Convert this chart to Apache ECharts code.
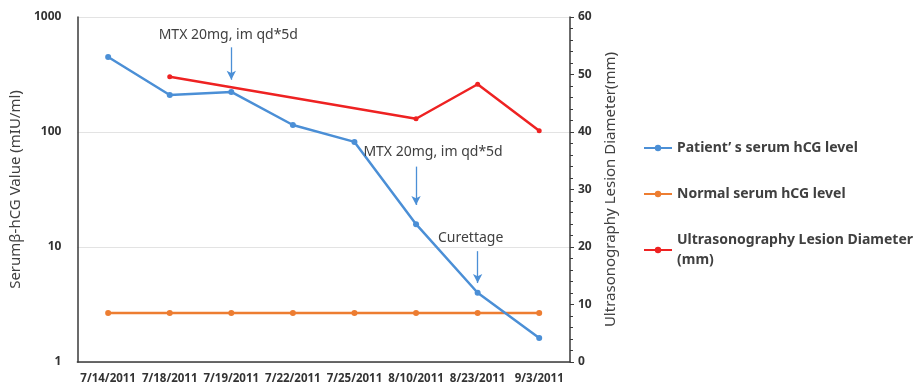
<!DOCTYPE html>
<html><head><meta charset="utf-8">
<script src="https://cdn.jsdelivr.net/npm/echarts@6/dist/echarts.min.js"></script>
<style>html,body{margin:0;padding:0;background:#fff}#c{width:919px;height:385px}</style>
</head><body><div id="c"></div>
<script>
const categories = ['7/14/2011','7/18/2011','7/19/2011','7/22/2011','7/25/2011','8/10/2011','8/23/2011','9/3/2011'];
const patientHCG = [449, 210, 223, 115, 82, 15.8, 4.0, 1.62];
const normalHCG = [2.67, 2.67, 2.67, 2.67, 2.67, 2.67, 2.67, 2.67];
const lesionDiameter = [null, 49.6, null, null, null, 42.3, 48.3, 40.2];
const seriesNames = ['Patient\u2019 s serum hCG level', 'Normal serum hCG level', 'Ultrasonography Lesion Diameter (mm)'];
const annotations = [
  {text: 'MTX 20mg, im qd*5d', cat: '7/19/2011', labelY: 700, from: 545, to: 285, dx: -3},
  {text: 'MTX 20mg, im qd*5d', cat: '8/10/2011', labelY: 67, from: 50, to: 23.2, dx: 17},
  {text: 'Curettage', cat: '8/23/2011', labelY: 12.0, from: 9.2, to: 4.86, dx: -7}
];
const font = '"Noto Sans", "Noto Sans CJK SC", sans-serif';
const txt = '#404040';
const chart = echarts.init(document.getElementById('c'));
chart.setOption({
  animation: false,
  textStyle: {fontFamily: font},
  grid: {left: 69, right: 349, top: 17, bottom: 23},
  legend: {
    orient: 'vertical', left: 638, top: 133, itemGap: 26, itemWidth: 28, itemHeight: 8,
    textStyle: {color: txt, fontSize: 14, fontWeight: 'bold', lineHeight: 20, fontFamily: font},
    formatter: n => n.replace(' (mm)', '\n(mm)'),
    data: seriesNames
  },
  xAxis: {
    type: 'category', data: categories, boundaryGap: true,
    axisLine: {lineStyle: {color: '#3a3a3a', width: 1.5}},
    axisTick: {show: false},
    axisLabel: {color: '#333', fontSize: 11.5, fontWeight: 'bold', margin: 11, interval: 0}
  },
  yAxis: [
    {type: 'log', logBase: 10, min: 1, max: 1000, position: 'left',
     name: 'Serumβ-hCG Value (mIU/ml)', nameLocation: 'middle', nameGap: 43,
     nameTextStyle: {color: txt, fontSize: 15},
     axisLine: {show: true, lineStyle: {color: '#3a3a3a', width: 1.5}},
     axisTick: {show: false},
     axisLabel: {color: '#333', fontSize: 12, fontWeight: 'bold', margin: 16, formatter: v => String(v)},
     splitLine: {show: true, lineStyle: {color: '#e3e3e3'}}},
    {type: 'value', min: 0, max: 60, interval: 10, position: 'right',
     name: 'Ultrasonography Lesion Diameter(mm)', nameLocation: 'middle', nameGap: 33,
     nameTextStyle: {color: txt, fontSize: 15},
     axisLine: {show: true, lineStyle: {color: '#3a3a3a', width: 1.5}},
     axisTick: {show: true, length: 4, inside: false, lineStyle: {color: '#3a3a3a'}},
     minorTick: {show: true, splitNumber: 5, length: 3, lineStyle: {color: '#3a3a3a'}},
     axisLabel: {color: '#333', fontSize: 12, fontWeight: 'bold', margin: 8},
     splitLine: {show: false}}
  ],
  series: [
    {name: seriesNames[0], type: 'line', yAxisIndex: 0, data: patientHCG,
     color: '#4b8fd6', symbol: 'circle', symbolSize: 6,
     lineStyle: {width: 2.5}, z: 3,
     markPoint: {
       symbol: 'circle', symbolSize: 0, silent: true,
       label: {show: true, color: txt, fontSize: 14, fontFamily: font, position: 'inside',
               formatter: p => p.name},
       data: annotations.map(a => ({name: a.text, coord: [a.cat, a.labelY], label: {offset: [a.dx, 0]}}))
     },
     markLine: {
       silent: true, symbol: ['none', 'arrow'], symbolSize: [7, 9],
       lineStyle: {color: '#4b8fd6', width: 1.3, type: 'solid'},
       label: {show: false},
       data: annotations.map(a => [{coord: [a.cat, a.from]}, {coord: [a.cat, a.to]}])
     }},
    {name: seriesNames[1], type: 'line', yAxisIndex: 0, data: normalHCG,
     color: '#ed7d31', symbol: 'circle', symbolSize: 6, lineStyle: {width: 2.5}, z: 2},
    {name: seriesNames[2], type: 'line', yAxisIndex: 1, data: lesionDiameter, connectNulls: true,
     color: '#ee2222', symbol: 'circle', symbolSize: 5, lineStyle: {width: 2.5}, z: 2}
  ]
});
</script></body></html>
